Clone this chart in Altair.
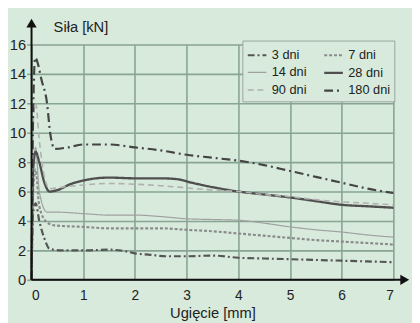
import altair as alt
import pandas as pd

# ---- data ----
series_order = ["3 dni", "14 dni", "90 dni", "7 dni", "28 dni", "180 dni"]

x_3 = [0, 0.03, 0.08, 0.15, 0.25, 0.35, 0.6, 1.0, 1.5, 1.8, 2.0, 2.3, 2.6, 3.0, 3.5, 4.0, 4.5, 5.0, 5.5, 6.0, 6.5, 7.0]
y_3 = [0, 4.5, 5.2, 4.0, 2.8, 2.1, 2.0, 2.0, 2.05, 1.95, 1.8, 1.7, 1.6, 1.6, 1.65, 1.5, 1.45, 1.4, 1.35, 1.3, 1.25, 1.2]

x_7 = [0, 0.03, 0.08, 0.15, 0.3, 0.45, 1.0, 1.5, 2.0, 2.5, 3.0, 3.5, 4.0, 4.5, 5.0, 5.5, 6.0, 6.5, 7.0]
y_7 = [0, 6.0, 7.5, 5.0, 3.9, 3.7, 3.6, 3.5, 3.5, 3.5, 3.4, 3.3, 3.15, 3.0, 2.85, 2.7, 2.6, 2.5, 2.4]

x_14 = [0, 0.03, 0.08, 0.15, 0.3, 0.5, 1.0, 1.5, 2.0, 2.5, 3.0, 3.5, 4.0, 4.5, 5.0, 5.5, 6.0, 6.5, 7.0]
y_14 = [0, 7.0, 9.0, 6.0, 4.6, 4.6, 4.5, 4.4, 4.4, 4.3, 4.15, 4.1, 4.05, 3.85, 3.6, 3.4, 3.25, 3.05, 2.9]

x_28 = [0, 0.03, 0.08, 0.15, 0.25, 0.35, 0.5, 0.75, 1.0, 1.5, 2.0, 2.5, 2.8, 3.1, 3.5, 4.0, 4.5, 5.0, 5.5, 6.0, 6.5, 7.0]
y_28 = [0, 7.5, 8.7, 8.0, 6.6, 6.0, 6.1, 6.5, 6.75, 6.95, 6.9, 6.9, 6.85, 6.6, 6.3, 6.0, 5.8, 5.6, 5.35, 5.1, 5.0, 4.9]

x_90 = [0, 0.03, 0.08, 0.15, 0.25, 0.35, 0.6, 1.0, 1.5, 2.0, 2.5, 3.0, 3.5, 4.0, 4.5, 5.0, 5.5, 6.0, 6.5, 7.0]
y_90 = [0, 10.5, 12.0, 9.5, 7.0, 6.2, 6.3, 6.45, 6.55, 6.5, 6.4, 6.25, 6.1, 6.0, 5.8, 5.65, 5.45, 5.3, 5.2, 5.1]

x_180 = [0, 0.03, 0.07, 0.2, 0.3, 0.36, 0.45, 0.7, 1.0, 1.5, 2.0, 2.5, 3.0, 3.5, 4.0, 4.5, 5.0, 5.5, 6.0, 6.5, 7.0]
y_180 = [0, 11.0, 15.1, 13.5, 12.0, 10.0, 8.9, 9.0, 9.2, 9.2, 9.0, 8.8, 8.5, 8.3, 8.1, 7.8, 7.4, 7.0, 6.6, 6.2, 5.9]

x_ticks = [0, 1, 2, 3, 4, 5, 6, 7]
y_ticks = [0, 2, 4, 6, 8, 10, 12, 14, 16]

rows = []
for name, xs_, ys_ in [("3 dni", x_3, y_3), ("7 dni", x_7, y_7), ("14 dni", x_14, y_14),
                       ("28 dni", x_28, y_28), ("90 dni", x_90, y_90), ("180 dni", x_180, y_180)]:
    for i, (a, b) in enumerate(zip(xs_, ys_)):
        rows.append({"series": name, "x": a, "y": b, "i": i})
df = pd.DataFrame(rows)

FONT = "Liberation Sans"
BG = "#d7eadb"
GRID = "#87a592"

# style per series, in series_order
colors = ["#555555", "#a0a0a0", "#b0b0b0", "#8a8a8a", "#4f4f4f", "#444444"]
dashes = [[7, 3, 2, 3], [1, 0], [6, 4], [3, 2], [1, 0], [9, 4, 2, 4]]
widths = [2.2, 1.2, 1.6, 2.2, 2.4, 2.2]

xs = alt.Scale(domain=[0, 7], nice=False, zero=False)
ys = alt.Scale(domain=[0, 16], nice=False, zero=False)

x_axis = alt.Axis(
    values=x_ticks, format="d", title="Ugięcie [mm]", domain=False, tickSize=0,
    labelPadding=9, labelFontSize=14, titleFontSize=15, titlePadding=3,
    gridColor=GRID, gridWidth=1.6, gridOpacity=1, labelOverlap=False)
y_axis = alt.Axis(
    values=y_ticks, format="d", title="Siła [kN]", domain=False, tickSize=5, tickColor=GRID,
    tickWidth=1.6, labelPadding=1, labelFontSize=15, titleFontSize=15, labelOverlap=False,
    titleAngle=0, titleAlign="left", titleBaseline="alphabetic", titleX=22, titleY=-13,
    gridColor=GRID, gridWidth=1.6, gridOpacity=1)

lines = alt.Chart(df).mark_line(interpolate="monotone").encode(
    x=alt.X("x:Q", scale=xs, axis=x_axis),
    y=alt.Y("y:Q", scale=ys, axis=y_axis),
    color=alt.Color("series:N", scale=alt.Scale(domain=series_order, range=colors),
                    sort=series_order, legend=alt.Legend(
                        title=None, orient="none", legendX=215, legendY=-4, columns=2,
                        symbolType="stroke", symbolSize=361, labelFontSize=13, labelOffset=4,
                        labelColor="#222222", columnPadding=12, rowPadding=0, padding=4,
                        strokeColor="#9aa59e", fillColor=BG)),
    strokeDash=alt.StrokeDash("series:N", scale=alt.Scale(domain=series_order, range=dashes),
                              sort=series_order, legend=alt.Legend(title=None)),
    strokeWidth=alt.StrokeWidth("series:N", scale=alt.Scale(type="ordinal", domain=series_order, range=widths),
                                sort=series_order, legend=alt.Legend(title=None)),
    order="i:Q",
)

axis_df = pd.DataFrame({"x0": [0.0], "x1": [7.15], "y0": [0.0], "y1": [17.2],
                        "ax": [7.22], "ay": [17.45]})
yaxis_rule = alt.Chart(axis_df).mark_rule(color="#111111", strokeWidth=2).encode(
    x=alt.X("x0:Q", scale=xs, axis=x_axis), y=alt.Y("y0:Q", scale=ys, axis=y_axis), y2="y1:Q")
xaxis_rule = alt.Chart(axis_df).mark_rule(color="#111111", strokeWidth=2).encode(
    x=alt.X("x0:Q", scale=xs, axis=x_axis), x2="x1:Q", y=alt.Y("y0:Q", scale=ys, axis=y_axis))
yarrow = alt.Chart(axis_df).mark_point(shape="triangle-up", filled=True, color="#111111",
                                       size=110, opacity=1).encode(
    x=alt.X("x0:Q", scale=xs, axis=x_axis), y=alt.Y("ay:Q", scale=ys, axis=y_axis))
xarrow = alt.Chart(axis_df).mark_point(shape="triangle-right", filled=True, color="#111111",
                                       size=110, opacity=1).encode(
    x=alt.X("ax:Q", scale=xs, axis=x_axis), y=alt.Y("y0:Q", scale=ys, axis=y_axis))

chart = alt.layer(lines, yaxis_rule, xaxis_rule, yarrow, xarrow).properties(
    width=369, height=240,
    autosize=alt.AutoSizeParams(type="none"),
    padding={"left": 24, "top": 34, "right": 19, "bottom": 49},
    background=BG,
).configure_view(stroke=None, fill=BG).configure(font=FONT).configure_axis(
    labelColor="#222222", titleColor="#222222", titleFontWeight="normal", labelFont=FONT, titleFont=FONT
).configure_legend(labelFont=FONT)

chart.save("out.html", embed_options={"renderer": "svg", "actions": False})
